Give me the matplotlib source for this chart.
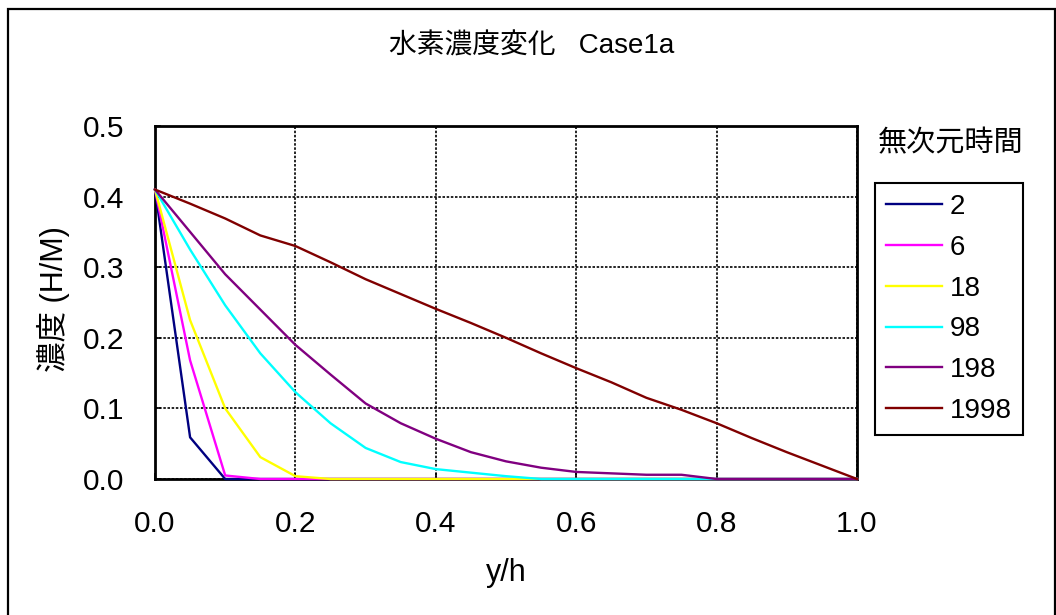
import matplotlib
matplotlib.use("Agg")
import matplotlib.pyplot as plt
from matplotlib.patches import Rectangle

plt.rcParams['font.family'] = ['Liberation Sans', 'Noto Sans CJK JP']

# ── data ──
y_h = [0.0, 0.05, 0.1, 0.15, 0.2, 0.25, 0.3, 0.35, 0.4, 0.45, 0.5,
       0.55, 0.6, 0.65, 0.7, 0.75, 0.8, 0.85, 0.9, 0.95, 1.0]

c_2 = [0.41, 0.059, 0, 0, 0, 0, 0, 0, 0, 0, 0,
       0, 0, 0, 0, 0, 0, 0, 0, 0, 0]
c_6 = [0.41, 0.168, 0.005, 0, 0, 0, 0, 0, 0, 0, 0,
       0, 0, 0, 0, 0, 0, 0, 0, 0, 0]
c_18 = [0.41, 0.225, 0.100, 0.031, 0.004, 0, 0, 0, 0, 0, 0,
        0, 0, 0, 0, 0, 0, 0, 0, 0, 0]
c_98 = [0.41, 0.325, 0.246, 0.178, 0.123, 0.079, 0.044, 0.024, 0.014, 0.009, 0.004,
        0, 0, 0, 0, 0, 0, 0, 0, 0, 0]
c_198 = [0.41, 0.350, 0.290, 0.240, 0.190, 0.148, 0.107, 0.079, 0.057, 0.038, 0.025,
         0.016, 0.010, 0.008, 0.006, 0.006, 0, 0, 0, 0, 0]
c_1998 = [0.41, 0.390, 0.369, 0.345, 0.330, 0.307, 0.283, 0.262, 0.241, 0.221, 0.200,
          0.178, 0.157, 0.137, 0.115, 0.098, 0.079, 0.058, 0.038, 0.019, 0.0]

series = [c_2, c_6, c_18, c_98, c_198, c_1998]
labels = ["2", "6", "18", "98", "198", "1998"]
colors = ["#000080", "#FF00FF", "#FFFF00", "#00FFFF", "#800080", "#800000"]

x_ticks = [0.0, 0.2, 0.4, 0.6, 0.8, 1.0]
y_ticks = [0.0, 0.1, 0.2, 0.3, 0.4, 0.5]

# ── figure ──
fig = plt.figure(figsize=(10.56, 6.15), dpi=100)
ax = fig.add_axes([155 / 1056, 1 - 479 / 615, 702 / 1056, 353 / 615])

for vals, lab, col in zip(series, labels, colors):
    ax.plot(y_h, vals, color=col, lw=1.7, label=lab, clip_on=False, zorder=3)

ax.set_xlim(0, 1)
ax.set_ylim(0, 0.5)
ax.set_xticks(x_ticks)
ax.set_yticks(y_ticks)
ax.set_xticklabels([f"{v:.1f}" for v in x_ticks])
ax.set_yticklabels([f"{v:.1f}" for v in y_ticks])
ax.tick_params(direction="in", length=4, width=1.2, labelsize=21.5, pad=22)
ax.grid(True, color="black", linestyle=(0, (1.5, 1)), lw=1.2)
for s in ax.spines.values():
    s.set_linewidth(2)

# titles / labels
fig.text(532 / 1056, 1 - 46 / 615, "水素濃度変化   Case1a", fontsize=20,
         ha="center", va="center")
fig.text(53 / 1056, 1 - 299 / 615, "濃度 (H/M)", fontsize=22, rotation=90,
         ha="center", va="center")
fig.text(506 / 1056, 1 - 573 / 615, "y/h", fontsize=22, ha="center", va="center")
fig.text(951 / 1056, 1 - 143 / 615, "無次元時間", fontsize=21,
         ha="center", va="center")

leg = fig.legend(loc="upper left", bbox_to_anchor=(875 / 1056, 1 - 183 / 615),
                 frameon=True, fancybox=False, framealpha=1, edgecolor="black",
                 fontsize=20, handlelength=2.0, handletextpad=0.3,
                 labelspacing=0.53, borderpad=0.4, borderaxespad=0)
leg.get_frame().set_linewidth(1.5)

# outer chart border
fig.patches.append(Rectangle((8 / 1056, -0.01), (1055 - 8) / 1056, 1.01 - 9 / 615,
                             transform=fig.transFigure, fill=False,
                             edgecolor="black", lw=1.6))

fig.savefig("out.png", dpi=100)
